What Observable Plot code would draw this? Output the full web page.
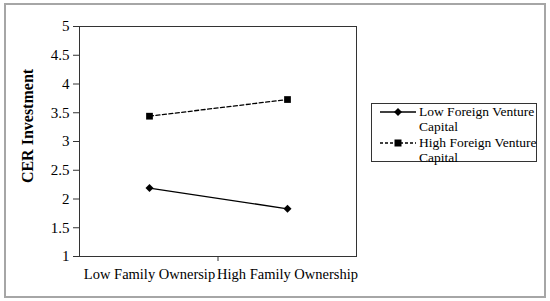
<!DOCTYPE html>
<html>
<head>
<meta charset="utf-8">
<script src="https://cdn.jsdelivr.net/npm/d3@7"></script>
<script src="https://cdn.jsdelivr.net/npm/@observablehq/plot@0.6"></script>
<style>
  html, body { margin: 0; padding: 0; background: #fff; }
  #wrap { position: relative; width: 550px; height: 301px; overflow: hidden; font-family: "Liberation Serif", serif; }
  #border { position: absolute; left: 4px; top: 3px; width: 538px; height: 291px; border: 2px solid #a6a6a6; }
  #chart { position: absolute; left: 0; top: 0; }
  #legend { position: absolute; left: 371px; top: 103px; width: 166px; height: 59px; border: 1px solid #333; box-sizing: border-box; font-size: 13.5px; line-height: 15px; color: #000; font-family: "Liberation Serif", serif; }
  .item { position: absolute; left: 0; }
  .item svg { position: absolute; left: 0; top: 0; }
  .item span { position: absolute; left: 47px; top: 0; width: 128px; white-space: normal; }
</style>
</head>
<body>
<div id="wrap">
  <div id="border"></div>
  <div id="chart"></div>
  <div id="legend"></div>
</div>
<script>
const categories = ["Low Family Ownersip", "High Family Ownership"];
const seriesNames = ["Low Foreign Venture Capital", "High Foreign Venture Capital"];
const lowFVC = [2.19, 1.83];
const highFVC = [3.44, 3.73];
const yTicks = [1, 1.5, 2, 2.5, 3, 3.5, 4, 4.5, 5];
const yLabel = "CER Investment";

const data = [];
categories.forEach((c, i) => {
  data.push({cat: c, series: seriesNames[0], value: lowFVC[i]});
  data.push({cat: c, series: seriesNames[1], value: highFVC[i]});
});
const low = data.filter(d => d.series === seriesNames[0]);
const high = data.filter(d => d.series === seriesNames[1]);
const serif = "'Liberation Serif', serif";

const chart = Plot.plot({
  width: 550,
  height: 301,
  marginLeft: 79,
  marginRight: 194,
  marginTop: 26,
  marginBottom: 45,
  style: {fontFamily: serif, fontSize: "14px", background: "transparent", color: "#000"},
  x: {type: "band", domain: categories, padding: 0, label: null},
  y: {domain: [1, 5], label: null},
  marks: [
    Plot.frame({stroke: "#333", strokeWidth: 1}),
    Plot.axisY({ticks: yTicks, tickFormat: d => String(d), tickSize: 6, tickPadding: 4, fontSize: 15, label: null, stroke: "#333"}),
    Plot.axisX({tickSize: 0, tickPadding: 12, fontSize: 14.5, label: null}),
    Plot.line(low, {x: "cat", y: "value", stroke: "#000", strokeWidth: 1.3}),
    Plot.line(high, {x: "cat", y: "value", stroke: "#000", strokeWidth: 1.3, strokeDasharray: "4,2.5"}),
    Plot.dot(low, {x: "cat", y: "value", symbol: "diamond2", fill: "#000", r: 3.6}),
    Plot.dot(high, {x: "cat", y: "value", symbol: "square", fill: "#000", r: 3.8})
  ]
});
document.getElementById("chart").appendChild(chart);

const xs = chart.scale("x"), ys = chart.scale("y");
const svg = d3.select(chart);
const bx = xs.apply(categories[1]);
svg.append("line").attr("x1", bx).attr("x2", bx).attr("y1", ys.apply(1)).attr("y2", ys.apply(1) + 5).attr("stroke", "#333");
svg.append("text")
  .attr("transform", `translate(33,${(ys.apply(1) + ys.apply(5)) / 2 - 15}) rotate(-90)`)
  .attr("text-anchor", "middle")
  .attr("font-family", serif)
  .attr("font-weight", "bold")
  .attr("font-size", 16)
  .attr("fill", "#000")
  .text(yLabel);

const legend = document.getElementById("legend");
const items = [
  {name: seriesNames[0], dash: null, sym: "diamond", top: 0},
  {name: seriesNames[1], dash: "3,2", sym: "square", top: 31}
];
items.forEach(it => {
  const div = document.createElement("div");
  div.className = "item";
  div.style.top = it.top + "px";
  const s = d3.create("svg").attr("width", 46).attr("height", 15);
  s.append("line").attr("x1", 8).attr("x2", 44).attr("y1", 8).attr("y2", 8).attr("stroke", "#000").attr("stroke-width", 1.3).attr("stroke-dasharray", it.dash);
  if (it.sym === "diamond") {
    s.append("path").attr("d", "M26,4L30,8L26,12L22,8Z").attr("fill", "#000");
  } else {
    s.append("rect").attr("x", 22.5).attr("y", 4.5).attr("width", 7).attr("height", 7).attr("fill", "#000");
  }
  div.appendChild(s.node());
  const sp = document.createElement("span");
  sp.textContent = it.name;
  div.appendChild(sp);
  legend.appendChild(div);
});
</script>
</body>
</html>
